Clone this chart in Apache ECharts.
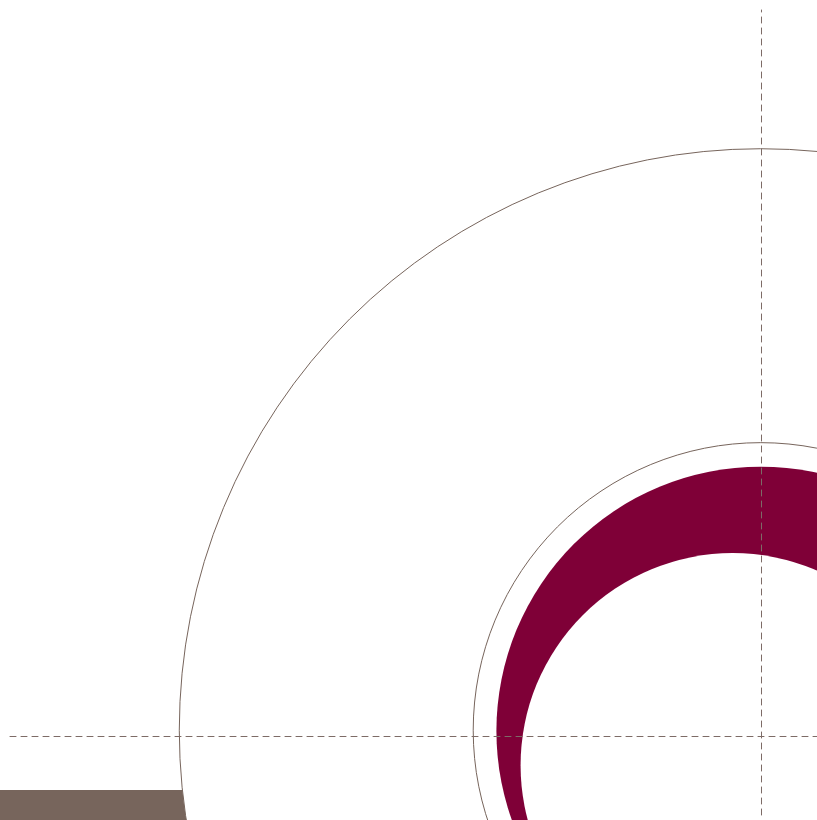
<!DOCTYPE html>
<html>
<head>
<meta charset="utf-8">
<script src="https://cdn.jsdelivr.net/npm/echarts@6/dist/echarts.min.js"></script>
<style>
html,body{margin:0;padding:0;background:#fff;}
#chart{width:817px;height:820px;}
</style>
</head>
<body>
<div id="chart"></div>
<script>
// Data (units of the value axes): [centerX, centerY, radius]
const outlineRings = [[0, 0.1, 10.03], [0, 0.1, 4.96]];
const crescentOuter = [[0, 0.086, 4.56]];
const crescentInner = [[-0.483, -0.505, 3.66]];
// [xStart, xEnd, yTop, yBottom]
const baseBar = [[-13.5, -5, -0.93, -1.8]];
const xRange = [-12.95, 0.97];
const yRange = [-1.362, 12.517];

const BROWN = '#77655c';
const MAROON = '#7f0037';
const DASH = '#7d6b66';

function circleRenderer(style) {
  return function (params, api) {
    const c = api.coord([api.value(0), api.value(1)]);
    const r = api.size([api.value(2), 0])[0];
    return { type: 'circle', shape: { cx: c[0], cy: c[1], r: r }, style: style };
  };
}

const chart = echarts.init(document.getElementById('chart'), null, { renderer: 'canvas' });
chart.setOption({
  backgroundColor: '#ffffff',
  animation: false,
  grid: { left: 10, top: 10, right: 0, bottom: 5 },
  xAxis: {
    type: 'value', min: xRange[0], max: xRange[1], z: 10,
    axisLine: { show: true, onZero: true, lineStyle: { color: DASH, width: 1, type: [6, 5] } },
    axisTick: { show: false }, axisLabel: { show: false }, splitLine: { show: false }
  },
  yAxis: {
    type: 'value', min: yRange[0], max: yRange[1], z: 10,
    axisLine: { show: true, onZero: true, lineStyle: { color: DASH, width: 1, type: [6, 5] } },
    axisTick: { show: false }, axisLabel: { show: false }, splitLine: { show: false }
  },
  series: [
    {
      type: 'custom', z: 1, silent: true,
      data: baseBar,
      renderItem: function (params, api) {
        const p0 = api.coord([api.value(0), api.value(2)]);
        const p1 = api.coord([api.value(1), api.value(3)]);
        return { type: 'rect', shape: { x: p0[0], y: p0[1], width: p1[0] - p0[0], height: p1[1] - p0[1] }, style: { fill: BROWN } };
      }
    },
    {
      type: 'custom', z: 2, silent: true,
      data: [outlineRings[0]],
      renderItem: circleRenderer({ fill: '#ffffff', stroke: BROWN, lineWidth: 1 })
    },
    {
      type: 'custom', z: 3, silent: true,
      data: [outlineRings[1]],
      renderItem: circleRenderer({ fill: 'none', stroke: BROWN, lineWidth: 1 })
    },
    {
      type: 'custom', z: 4, silent: true,
      data: crescentOuter,
      renderItem: circleRenderer({ fill: MAROON })
    },
    {
      type: 'custom', z: 5, silent: true,
      data: crescentInner,
      renderItem: circleRenderer({ fill: '#ffffff' })
    }
  ]
});
</script>
</body>
</html>
